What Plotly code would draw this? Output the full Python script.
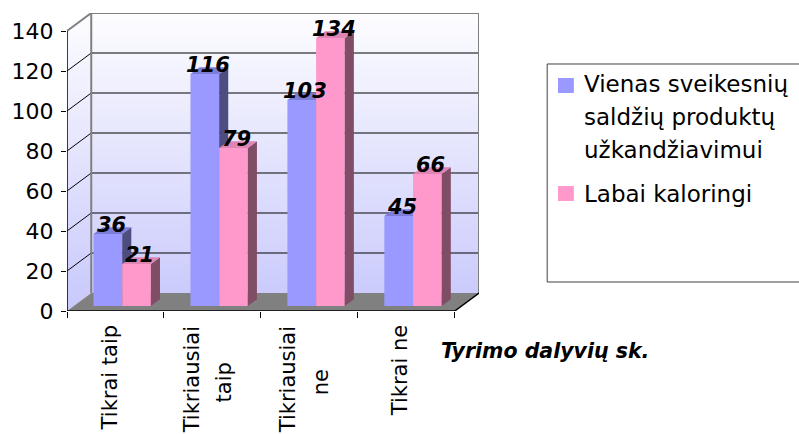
import plotly.graph_objects as go

# ---- data -------------------------------------------------------------
categories = ["Tikrai taip", "Tikriausiai<br>taip", "Tikriausiai<br>ne", "Tikrai ne"]
healthier = [36, 116, 103, 45]        # Vienas sveikesnių saldžių produktų užkandžiavimui
caloric = [21, 79, 134, 66]           # Labai kaloringi
series1_lines = ["Vienas sveikesnių", "saldžių produktų", "užkandžiavimui"]
series2_name = "Labai kaloringi"
y_ticks = [0, 20, 40, 60, 80, 100, 120, 140]
axis_title = "Tyrimo dalyvių sk."

# ---- styling / pseudo-3D geometry ------------------------------------
FONT = "DejaVu Sans"
BLUE, BLUE_SIDE, BLUE_TOP = "#9999ff", "#4d4d80", "#7d7dd6"
PINK, PINK_SIDE, PINK_TOP = "#ff99cc", "#804d66", "#e085b3"
DX, DY = 0.25, 9.0          # depth of the chart box (x in category units, y in value units)
BAR_FRONT = 0.278           # depth fraction where bar fronts stand
BAR_DEPTH = 0.375           # bar thickness as depth fraction
BAR_W = 0.296               # width of one bar (category units)

n = len(categories)
idx = list(range(n))
L, R = -0.5, n - 0.5
TOP = y_ticks[-1]
ddx, ddy = DX * BAR_DEPTH, DY * BAR_DEPTH
ox, oy = DX * BAR_FRONT, DY * BAR_FRONT

fig = go.Figure()


def poly(xs, ys, color, xa="x", ya="y", **kw):
    fig.add_trace(go.Scatter(x=xs, y=ys, mode="lines", fill="toself", fillcolor=color,
                             line=dict(width=0), hoverinfo="skip", cliponaxis=False,
                             xaxis=xa, yaxis=ya, **kw))


def line(xs, ys, color, width, xa="x", ya="y"):
    fig.add_trace(go.Scatter(x=xs, y=ys, mode="lines", line=dict(color=color, width=width),
                             hoverinfo="skip", cliponaxis=False, xaxis=xa, yaxis=ya))


wall_grad = dict(type="vertical", start=0, stop=TOP + DY,
                 colorscale=[[0, "#c8c8fc"], [1, "#fdfdff"]])

# back wall and left wall
poly([L + DX, R + DX, R + DX, L + DX, L + DX], [DY, DY, TOP + DY, TOP + DY, DY], None,
     fillgradient=wall_grad)
poly([L, L, L + DX, L + DX, L], [0, TOP, TOP + DY, DY, 0], None, fillgradient=wall_grad)

# gridlines running over the left wall and the back wall
gx, gy = [], []
for v in y_ticks[1:-1]:
    gx += [L, L + DX, R + DX, None]
    gy += [v, v + DY, v + DY, None]
line(gx, gy, "#000000", 1)

# wall borders
line([L + DX, L + DX, R + DX, R + DX], [DY, TOP + DY, TOP + DY, DY], "#808080", 2)
line([L, L + DX], [TOP, TOP + DY], "#808080", 2)

# floor
poly([L, R, R + DX, L + DX, L], [0, 0, DY, DY, 0], "#808080")

# front axes
line([L, L, R, R + DX], [TOP, 0, 0, DY], "#000000", 1.5)


def bars_3d(values, offset, front, side, top, xa, ya):
    fig.add_trace(go.Bar(x=idx, y=values, width=BAR_W, offset=offset,
                         marker=dict(color=front, line=dict(width=0)),
                         hoverinfo="skip", xaxis=xa, yaxis=ya))
    for c, v in zip(idx, values):
        xl = c + offset
        xr = xl + BAR_W
        poly([xr, xr + ddx, xr + ddx, xr, xr], [0, ddy, v + ddy, v, 0], side, xa, ya)
        poly([xl, xr, xr + ddx, xl + ddx, xl], [v, v, v + ddy, v + ddy, v], top, xa, ya)


bars_3d(healthier, -BAR_W, BLUE, BLUE_SIDE, BLUE_TOP, "x2", "y2")
bars_3d(caloric, 0.0, PINK, PINK_SIDE, PINK_TOP, "x3", "y3")

annotations = []
# value labels above the bars
for values, offset, xa, ya in [(healthier, -BAR_W, "x2", "y2"), (caloric, 0.0, "x3", "y3")]:
    for c, v in zip(idx, values):
        annotations.append(dict(
            x=c + offset + BAR_W / 2 + 0.035, y=v, xref=xa, yref=ya,
            text=f"<b><i>{v}</i></b>", showarrow=False, xanchor="center", yanchor="bottom",
            yshift=-5, font=dict(family=FONT, size=21, color="#000000")))

# category labels (rotated, each text line placed on its own)
cat_font = dict(family=FONT, size=21, color="#000000")
for c, lab in zip(idx, categories):
    parts = lab.split("<br>")
    if len(parts) == 1:
        annotations.append(dict(
            x=c, y=-0.040, xref="x", yref="paper", text=parts[0], textangle=-90,
            xshift=-5.5, showarrow=False, xanchor="center", yanchor="top", font=cat_font))
    else:
        annotations.append(dict(
            x=c, y=-0.045, xref="x", yref="paper", text=parts[0], textangle=-90,
            xshift=-21, showarrow=False, xanchor="center", yanchor="top", font=cat_font))
        annotations.append(dict(
            x=c, y=-0.2383, xref="x", yref="paper", text=parts[1], textangle=-90,
            xshift=12, showarrow=False, xanchor="center", yanchor="middle", font=cat_font))

annotations.append(dict(
    x=0.9017, y=-0.134, xref="paper", yref="paper", text=f"<b><i>{axis_title}</i></b>",
    showarrow=False, xanchor="left", yanchor="middle",
    font=dict(family=FONT, size=20.5, color="#000000")))

# legend
legend_rows = [(series1_lines[0], 0.7617), (series1_lines[1], 0.651),
               (series1_lines[2], 0.5403), (series2_name, 0.3926)]
for txt, yy in legend_rows:
    annotations.append(dict(
        x=1.2494, y=yy, xref="paper", yref="paper", text=txt, showarrow=False,
        xanchor="left", yanchor="middle", font=dict(family=FONT, size=23, color="#000000")))

shapes = [
    dict(type="rect", xref="paper", yref="paper", x0=1.1655, x1=1.80, y0=0.0973, y1=0.8289,
         line=dict(color="#404040", width=1), fillcolor="rgba(0,0,0,0)"),
    dict(type="rect", xref="paper", yref="paper", x0=1.1918, x1=1.2302, y0=0.7315, y1=0.7819,
         line=dict(width=0), fillcolor=BLUE),
    dict(type="rect", xref="paper", yref="paper", x0=1.1918, x1=1.2302, y0=0.3691, y1=0.4195,
         line=dict(width=0), fillcolor=PINK),
]

xr = [L, R + DX]
yr = [0, TOP + DY]
hidden = dict(visible=False, fixedrange=True)
fig.update_layout(
    width=799, height=434,
    margin=dict(l=62, r=320, t=13, b=123, pad=0),
    paper_bgcolor="#ffffff", plot_bgcolor="rgba(0,0,0,0)",
    showlegend=False, barmode="overlay",
    font=dict(family=FONT, color="#000000"),
    xaxis=dict(range=xr, tickvals=[L + k for k in range(n + 1)], ticks="outside", ticklen=6,
               tickcolor="#000000", showticklabels=False, showgrid=False, zeroline=False,
               showline=False, fixedrange=True),
    yaxis=dict(range=yr, tickvals=y_ticks, ticks="outside", ticklen=5, tickcolor="#000000",
               tickfont=dict(family=FONT, size=22, color="#000000"), showgrid=False,
               zeroline=False, showline=False, fixedrange=True, ticklabelstandoff=3),
    xaxis2=dict(overlaying="x", range=[xr[0] - ox, xr[1] - ox], **hidden),
    yaxis2=dict(overlaying="y", range=[yr[0] - oy, yr[1] - oy], **hidden),
    xaxis3=dict(overlaying="x", range=[xr[0] - ox, xr[1] - ox], **hidden),
    yaxis3=dict(overlaying="y", range=[yr[0] - oy, yr[1] - oy], **hidden),
    annotations=annotations, shapes=shapes,
)

fig.write_html("out.html")
